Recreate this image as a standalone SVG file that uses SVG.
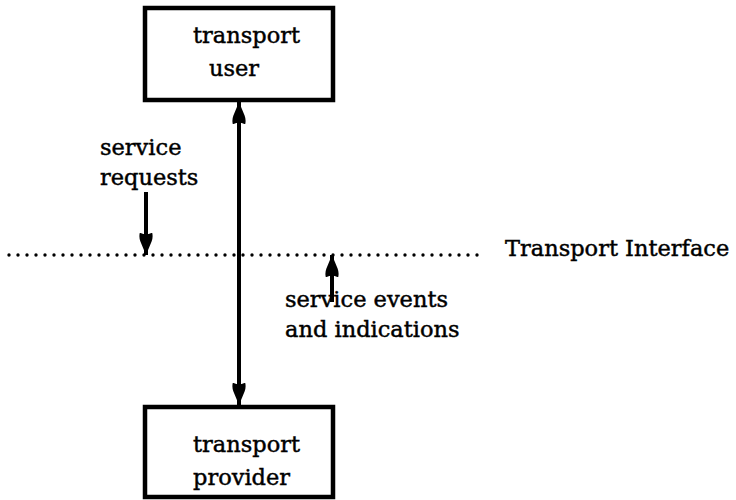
<svg xmlns="http://www.w3.org/2000/svg" width="736" height="500" viewBox="0 0 736 500">
<style>
text{font-family:"DejaVu Serif","Liberation Serif",serif;font-size:22.5px;fill:#000;stroke:#000;stroke-width:0.45}
.box{fill:#fff;stroke:#000;stroke-width:4.5}
.ln{stroke:#000;stroke-width:4;fill:none}
.dot{stroke:#000;stroke-width:3.4;stroke-linecap:round;stroke-dasharray:0 9;fill:none}
</style>
<defs>
<marker id="ah" viewBox="0 0 20 13" refX="20" refY="6.5" markerWidth="5.6" markerHeight="3.64" markerUnits="strokeWidth" orient="auto-start-reverse">
<path d="M0,1 Q4,0 8,1.5 L20,6.5 L8,11.5 Q4,13 0,12 Q3,6.5 0,1 Z" fill="#000"/>
</marker>
</defs>
<g id="connectors">
<line class="dot" x1="9" y1="255" x2="478" y2="255"/>
<line class="ln" x1="239" y1="102" x2="239" y2="405" marker-start="url(#ah)" marker-end="url(#ah)"/>
<line class="ln" x1="146" y1="192" x2="146" y2="255" marker-end="url(#ah)"/>
<line class="ln" x1="332" y1="302" x2="332" y2="255" marker-end="url(#ah)"/>
</g>
<g id="user">
<rect class="box" x="145" y="8" width="188" height="92"/>
<text x="193" y="43">transport</text>
<text x="209" y="76">user</text>
</g>
<g id="provider">
<rect class="box" x="145" y="407" width="188" height="90"/>
<text x="193" y="452">transport</text>
<text x="193" y="485">provider</text>
</g>
<g id="labels">
<text x="100" y="155">service</text>
<text x="100" y="185">requests</text>
<text x="285" y="307">service events</text>
<text x="285" y="337">and indications</text>
<text x="505" y="256">Transport Interface</text>
</g>
</svg>
